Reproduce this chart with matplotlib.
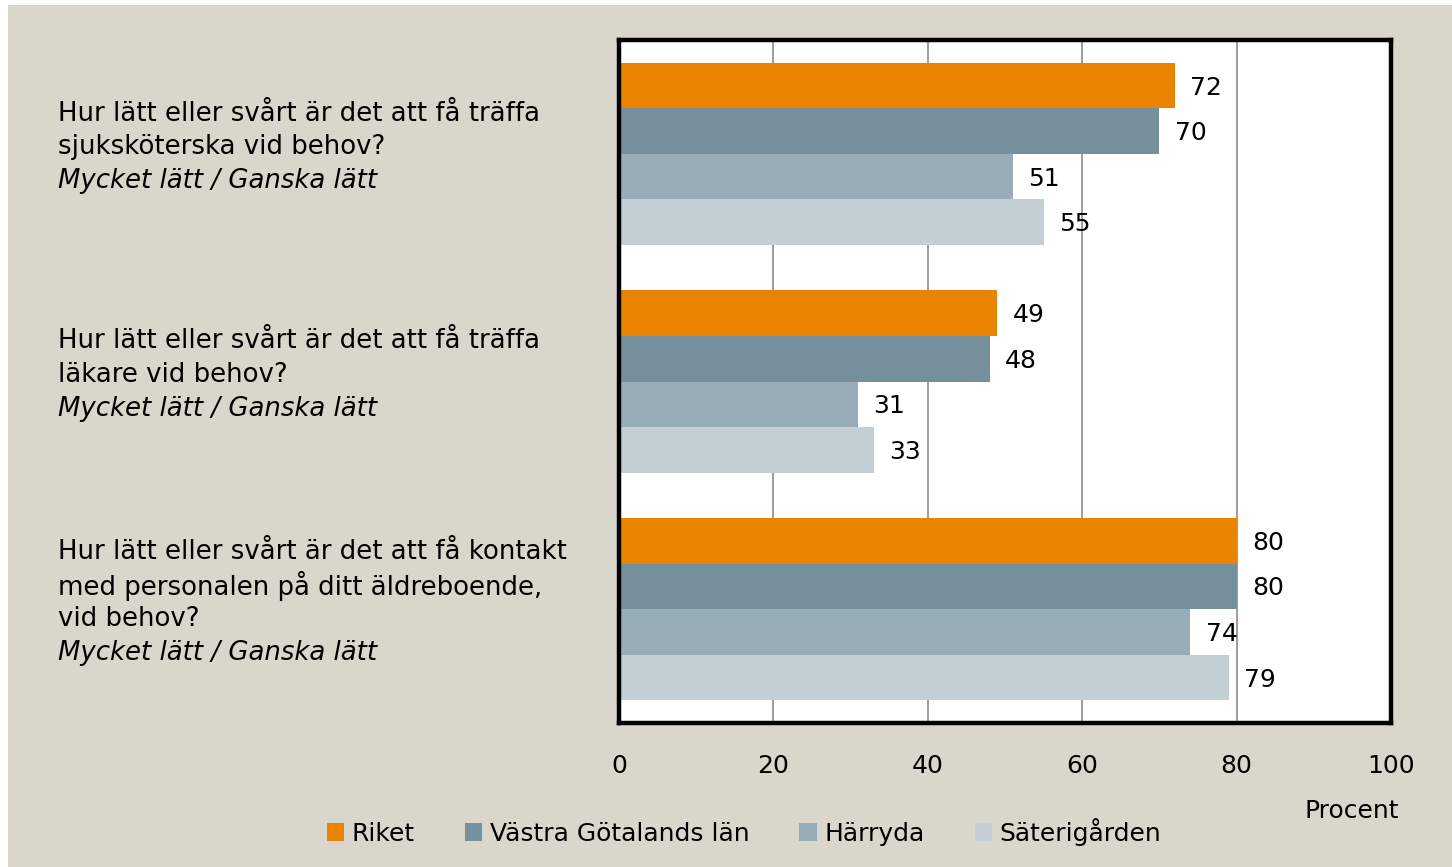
import numpy as np
import matplotlib
matplotlib.use("Agg")
import matplotlib.pyplot as plt
from matplotlib.patches import Rectangle

# data
questions = [
    ["Hur lätt eller svårt är det att få träffa", "sjuksköterska vid behov?"],
    ["Hur lätt eller svårt är det att få träffa", "läkare vid behov?"],
    ["Hur lätt eller svårt är det att få kontakt", "med personalen på ditt äldreboende,", "vid behov?"],
]
subtitle = "Mycket lätt / Ganska lätt"
series = ["Riket", "Västra Götalands län", "Härryda", "Säterigården"]
riket = [72, 49, 80]
vgl = [70, 48, 80]
harryda = [51, 31, 74]
saterigarden = [55, 33, 79]
values = [riket, vgl, harryda, saterigarden]
colors = ["#E98300", "#758F9C", "#98ADB8", "#C3CED5"]
xticks = [0, 20, 40, 60, 80, 100]

plt.rcParams['font.family'] = ['DejaVu Sans']
fs = 18

fig = plt.figure(figsize=(14.52, 8.67), dpi=100)
fig.patch.set_facecolor("white")
# beige panel
fig.patches.append(Rectangle((8 / 1452, 0), 1, 1 - 5 / 867, transform=fig.transFigure,
                             facecolor="#D9D7CB", edgecolor="none", zorder=-10))

ax = fig.add_axes([619 / 1452, 1 - 723 / 867, (1391 - 619) / 1452, (723 - 40) / 867])
ax.set_facecolor("white")

h = 0.2
y = np.arange(len(questions))
for k, (vals, col) in enumerate(zip(values, colors)):
    pos = y - 0.3 + k * h
    ax.barh(pos, vals, height=h, color=col, label=series[k], zorder=2)
    for p, v in zip(pos, vals):
        ax.annotate(str(v), (v, p), xytext=(11, -1.5), textcoords="offset points",
                    va="center", ha="left", fontsize=fs, zorder=3)

ax.set_xlim(0, 100)
ax.set_ylim(2.5, -0.5)
ax.set_xticks(xticks)
ax.set_yticks([])
ax.tick_params(axis="x", length=0, pad=22, labelsize=fs)
ax.grid(axis="x", color="#8C8C8C", linewidth=1.2, zorder=1)
for s in ax.spines.values():
    s.set_linewidth(3.2)
    s.set_color("black")

# category labels at left
px = 0.72
for i, lines in enumerate(questions):
    all_lines = lines + [subtitle]
    n = len(all_lines)
    for j, line in enumerate(all_lines):
        off = -(-6.5 + (j - (n - 1) / 2) * 33.5) * px
        ax.annotate(line, xy=(58 / 1452, i), xycoords=("figure fraction", "data"),
                    xytext=(0, off), textcoords="offset points",
                    ha="left", va="center", fontsize=18.7,
                    style="italic" if j == n - 1 else "normal",
                    annotation_clip=False)

fig.legend(loc="center", bbox_to_anchor=(744 / 1452, 1 - 832 / 867), ncol=4,
           frameon=False, fontsize=fs, handlelength=0.7, handleheight=0.7,
           handletextpad=0.3, columnspacing=2.0)
fig.text(1352 / 1452, 1 - 811 / 867, "Procent", ha="center", va="center", fontsize=fs)

fig.savefig("out.png", dpi=100)
